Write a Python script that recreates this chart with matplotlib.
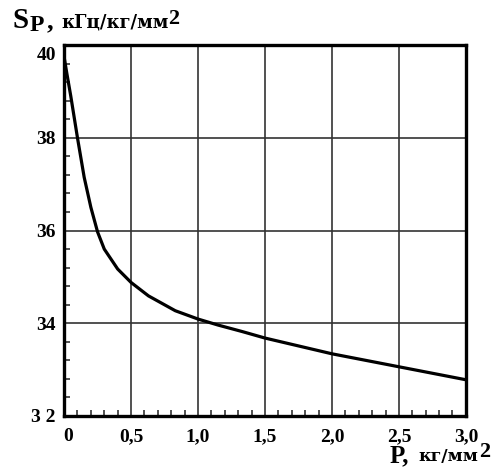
import numpy as np
import matplotlib
matplotlib.use("Agg")
import matplotlib.pyplot as plt
from matplotlib.ticker import MultipleLocator
import matplotlib.transforms as mtransforms

# Sp versus load P
pressure = [0.0, 0.02, 0.05, 0.1, 0.15, 0.2, 0.25, 0.3, 0.4, 0.5,
            0.63, 0.83, 1.0, 1.15, 1.33, 1.5, 2.0, 2.5, 3.0]
sens = [39.75, 39.4, 38.9, 38.0, 37.15, 36.5, 35.97, 35.6, 35.17, 34.88,
        34.59, 34.27, 34.09, 33.96, 33.82, 33.68, 33.34, 33.06, 32.78]

x_ticks = [0, 0.5, 1.0, 1.5, 2.0, 2.5, 3.0]
x_labels = ["0", "0,5", "1,0", "1,5", "2,0", "2,5", "3,0"]
y_ticks = [32, 34, 36, 38, 40]
y_labels = ["3 2", "34", "36", "38", "40"]

plt.rcParams['font.family'] = ['Liberation Serif', 'DejaVu Serif']
plt.rcParams['font.weight'] = 'bold'

fig = plt.figure(figsize=(4.93, 4.71), dpi=100)
ax = fig.add_axes([0.130, 0.117, 0.815, 0.787])

ax.plot(pressure, sens, color='black', lw=2.3, solid_capstyle='butt')

ax.set_xlim(0, 3.0)
ax.set_ylim(32, 40)
ax.set_xticks(x_ticks)
ax.set_xticklabels(x_labels)
ax.set_yticks(y_ticks)
ax.set_yticklabels(y_labels)
ax.xaxis.set_minor_locator(MultipleLocator(0.1))
ax.yaxis.set_minor_locator(MultipleLocator(0.4))

ax.grid(True, which='major', color='#333333', lw=1.2)
ax.tick_params(which='major', length=0, labelsize=14, pad=6)
ax.tick_params(axis='x', which='major', pad=9)
ax.tick_params(which='minor', direction='in', length=4, width=1.2, color='#333333')
for lbl in ax.get_xticklabels() + ax.get_yticklabels():
    lbl.set_fontweight('bold')

# first x label sits a little right, top y label a little lower
off = mtransforms.ScaledTranslation(4 / 100, 0, fig.dpi_scale_trans)
ax.get_xticklabels()[0].set_transform(ax.get_xticklabels()[0].get_transform() + off)
off2 = mtransforms.ScaledTranslation(0, -8 / 100, fig.dpi_scale_trans)
ax.get_yticklabels()[-1].set_transform(ax.get_yticklabels()[-1].get_transform() + off2)

for s in ax.spines.values():
    s.set_linewidth(2.4)
    s.set_color('black')

unit_font = ['DejaVu Serif']

# axis titles
fig.text(12 / 493, 1 - 28 / 471, "S", fontsize=21, fontweight='bold', va='baseline')
fig.text(30 / 493, 1 - 31 / 471, "P", fontsize=17, fontweight='bold', va='baseline')
fig.text(47 / 493, 1 - 28 / 471, ",", fontsize=19, fontweight='bold', va='baseline')
fig.text(61 / 493, 1 - 27 / 471, "кГц/кг/мм", fontsize=13, fontweight='bold',
         va='baseline', family=unit_font)
fig.text(168 / 493, 1 - 24 / 471, "2", fontsize=16, fontweight='bold', va='baseline')

fig.text(390 / 493, 1 - 462 / 471, "P,", fontsize=18, fontweight='bold', va='baseline')
fig.text(418 / 493, 1 - 461 / 471, "кг/мм", fontsize=12.5, fontweight='bold',
         va='baseline', family=unit_font)
fig.text(479 / 493, 1 - 457 / 471, "2", fontsize=16, fontweight='bold', va='baseline')

fig.savefig("out.png", dpi=100, facecolor='white')
